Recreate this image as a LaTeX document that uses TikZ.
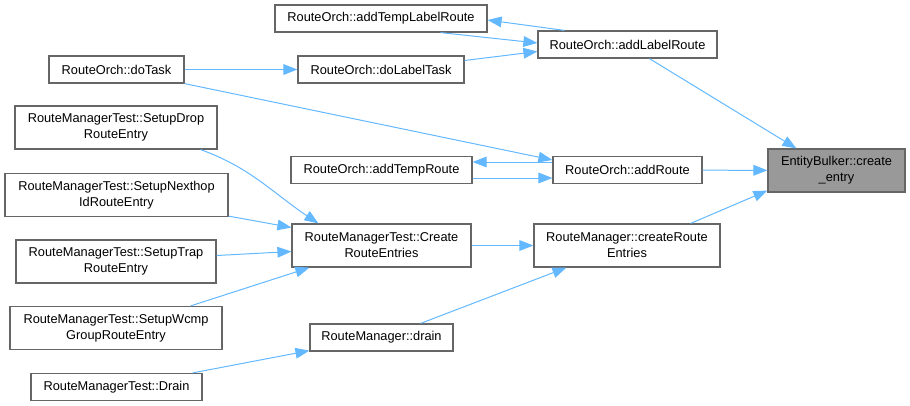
\documentclass[tikz,border=0pt]{standalone}
\usepackage{fontspec}
\setmainfont{Liberation Sans}
\usepackage{tikz}
\usetikzlibrary{arrows.meta, calc}
\definecolor{colEdge}{RGB}{99,184,255}
\definecolor{colBorder}{RGB}{102,102,102}
\definecolor{colFocus}{RGB}{153,153,153}

\begin{document}
\begin{tikzpicture}[
            x=0.75pt, y=-0.75pt,
            font=\fontsize{9.6}{12}\selectfont,
            fn/.style={rectangle, draw=colBorder, line width=0.9pt, fill=white, inner sep=0pt, align=center, minimum height=20.25pt},
            fntwo/.style={fn, minimum height=32.25pt},
            focus/.style={fntwo, fill=colFocus},
            arrow/.style={-{Triangle[length=10.5pt, width=8pt]}, colEdge, line width=0.75pt}
        ]
        \useasboundingbox (0,0) rectangle (910,405);

        %% ── COLONNE DROITE : fonction appelée ─────────────────────
        \node[focus, minimum width=102.75pt] (entry) at (836.5,170.5) {EntityBulker::create\\\_entry};

        %% ── RouteOrch ─────────────────────────────────────────────
        \node[fn, minimum width=134.25pt] (label) at (627.5,44.5) {RouteOrch::addLabelRoute};
        \node[fn, minimum width=159pt] (tlabel) at (381,18.5) {RouteOrch::addTempLabelRoute};
        \node[fn, minimum width=124.5pt] (dolabel) at (381,69.5) {RouteOrch::doLabelTask};
        \node[fn, minimum width=101.25pt] (dotask) at (116.5,69.5) {RouteOrch::doTask};
        \node[fn, minimum width=111.75pt] (addroute) at (627.5,170) {RouteOrch::addRoute};
        \node[fn, minimum width=135.75pt] (temproute) at (381.5,170) {RouteOrch::addTempRoute};

        %% ── RouteManager ──────────────────────────────────────────
        \node[fntwo, minimum width=139.5pt] (rmcreate) at (627,245.5) {RouteManager::createRoute\\Entries};
        \node[fntwo, minimum width=134.25pt] (tcreate) at (381.5,245.5) {RouteManagerTest::Create\\RouteEntries};
        \node[fn, minimum width=107.25pt] (drain) at (381.5,337.5) {RouteManager::drain};

        %% ── Tests (colonne gauche) ────────────────────────────────
        \node[fntwo, minimum width=151.5pt] (sdrop) at (116,127.5) {RouteManagerTest::SetupDrop\\RouteEntry};
        \node[fntwo, minimum width=167.25pt] (snexthop) at (116.5,195) {RouteManagerTest::SetupNexthop\\IdRouteEntry};
        \node[fntwo, minimum width=150pt] (strap) at (116,261.5) {RouteManagerTest::SetupTrap\\RouteEntry};
        \node[fntwo, minimum width=159pt] (swcmp) at (116,328) {RouteManagerTest::SetupWcmp\\GroupRouteEntry};
        \node[fn, minimum width=128.25pt] (tdrain) at (116.5,387) {RouteManagerTest::Drain};

        %% ── FLÈCHES ───────────────────────────────────────────────
        \draw[arrow] ($(label.north west)+(27,0)$) -- ($(tlabel.east)+(0,1.5)$);
        \draw[arrow] ($(tlabel.south east)+(-47,0)$) -- ($(label.west)+(0,-1.5)$);
        \draw[arrow] ($(dolabel.east)+(0,-9)$) -- ($(label.west)+(0,7)$);
        \draw[arrow] (dotask) -- (dolabel);
        \draw[arrow] (dotask.south east) -- ($(addroute.west)+(0,-10)$);
        \draw[arrow] ($(addroute.west)+(0,-8)$) -- ($(temproute.east)+(0,-8)$);
        \draw[arrow] ($(temproute.east)+(0,8)$) -- ($(addroute.west)+(0,8)$);

        \draw[arrow] ($(label.south west)+(112,0)$) -- ($(entry.north west)+(29,0)$);
        \draw[arrow] (addroute) -- (entry);
        \draw[arrow] ($(rmcreate.north east)+(-30,0)$) -- ($(entry.south west)+(0,-2)$);

        \draw[arrow] (tcreate) -- (rmcreate);
        \draw[arrow] ($(drain.north east)+(-33,0)$) -- ($(rmcreate.south west)+(33,0)$);

        % tests -> CreateRouteEntries
        \draw[arrow] ($(sdrop.south east)+(-17,0)$) .. controls +(50,18) and +(-45,-30) .. ($(tcreate.north west)+(27,0)$);
        \draw[arrow] ($(snexthop.south east)+(0,-1)$) -- ($(tcreate.west)+(0,-18)$);
        \draw[arrow] ($(strap.east)+(0,-6)$) -- ($(tcreate.west)+(0,6)$);
        \draw[arrow] ($(swcmp.north east)+(-32,0)$) -- ($(tcreate.south west)+(18,0)$);
        \draw[arrow] ($(tdrain.north east)+(-10,0)$) -- ($(drain.south west)+(0,-1)$);

\end{tikzpicture}
\end{document}
